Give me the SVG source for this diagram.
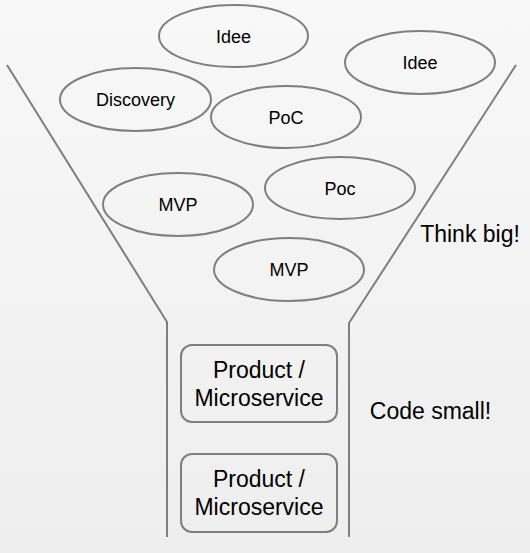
<svg xmlns="http://www.w3.org/2000/svg" width="530" height="553" viewBox="0 0 530 553">
<defs>
<linearGradient id="bg" x1="0" y1="0" x2="0" y2="1">
<stop offset="0" stop-color="#f8f8f8"/>
<stop offset="1" stop-color="#eeeeee"/>
</linearGradient>
<style>
.shape{fill:none;stroke:#7f7f7f;stroke-width:2}
.funnel{fill:none;stroke:#7f7f7f;stroke-width:2}
.t{font-family:"Liberation Sans",Arial,sans-serif;fill:#000;text-anchor:middle}
.s{font-size:18px}
.l{font-size:23px}
</style>
</defs>
<rect width="530" height="553" fill="url(#bg)"/>
<g id="connectors">
<polyline class="funnel" points="7,65 167,322 167,537"/>
<polyline class="funnel" points="516,65 349,323 349,537"/>
</g>
<g id="idee1"><ellipse class="shape" cx="233.5" cy="36" rx="74.5" ry="31"/><text class="t s" x="233.5" y="42.5">Idee</text></g>
<g id="idee2"><ellipse class="shape" cx="420" cy="62.5" rx="75" ry="31.5"/><text class="t s" x="420" y="69">Idee</text></g>
<g id="discovery"><ellipse class="shape" cx="135.5" cy="99.5" rx="75.5" ry="31.5"/><text class="t s" x="135.5" y="106">Discovery</text></g>
<g id="poc1"><ellipse class="shape" cx="286" cy="117" rx="75" ry="31"/><text class="t s" x="286" y="123.5">PoC</text></g>
<g id="mvp1"><ellipse class="shape" cx="178" cy="204.5" rx="75" ry="31.5"/><text class="t s" x="178" y="211">MVP</text></g>
<g id="poc2"><ellipse class="shape" cx="340" cy="188" rx="75" ry="31"/><text class="t s" x="340" y="194.5">Poc</text></g>
<g id="mvp2"><ellipse class="shape" cx="289" cy="269.5" rx="75" ry="31.5"/><text class="t s" x="289" y="276">MVP</text></g>
<g id="product1"><rect class="shape" x="181" y="345" width="156" height="77" rx="11"/><text class="t l" x="259" y="378">Product /</text><text class="t l" x="259" y="406">Microservice</text></g>
<g id="product2"><rect class="shape" x="181" y="454" width="156" height="78" rx="11"/><text class="t l" x="259" y="487">Product /</text><text class="t l" x="259" y="515">Microservice</text></g>
<g id="think"><text class="t l" x="470" y="242">Think big!</text></g>
<g id="code"><text class="t l" x="430.5" y="419">Code small!</text></g>
</svg>
